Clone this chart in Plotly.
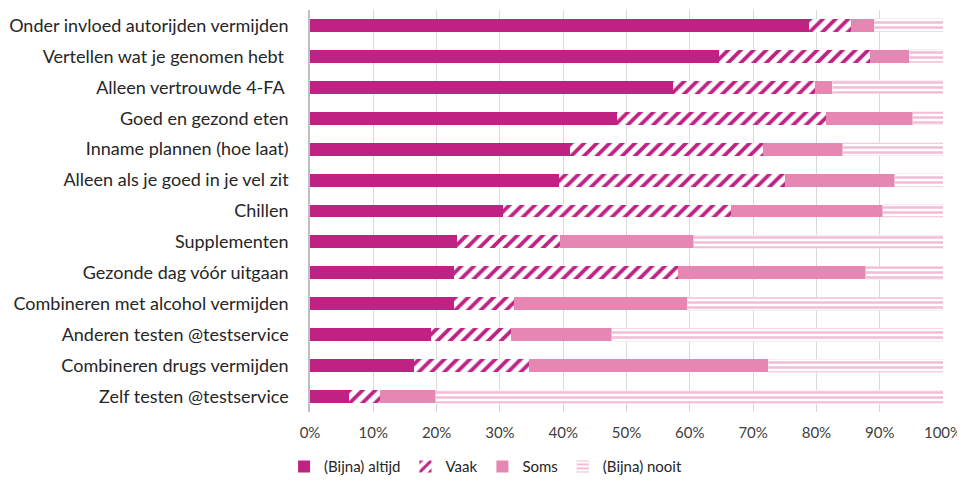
import plotly.graph_objects as go

categories = [
    "Onder invloed autorijden vermijden",
    "Vertellen wat je genomen hebt ",
    "Alleen vertrouwde 4-FA ",
    "Goed en gezond eten",
    "Inname plannen (hoe laat)",
    "Alleen als je goed in je vel zit",
    "Chillen",
    "Supplementen",
    "Gezonde dag vóór uitgaan",
    "Combineren met alcohol vermijden",
    "Anderen testen @testservice",
    "Combineren drugs vermijden",
    "Zelf testen @testservice",
]
altijd = [78.9, 64.6, 57.4, 48.5, 41.1, 39.3, 30.5, 23.3, 22.8, 22.8, 19.1, 16.5, 6.2]
vaak = [6.5, 23.9, 22.4, 33.0, 30.5, 35.8, 36.0, 16.2, 35.3, 9.5, 12.6, 18.1, 4.8]
soms = [3.7, 6.2, 2.7, 13.7, 12.6, 17.3, 24.0, 21.1, 29.7, 27.3, 16.0, 37.8, 8.9]
nooit = [10.9, 5.3, 17.5, 4.8, 15.8, 7.6, 9.5, 39.4, 12.2, 40.4, 52.3, 27.6, 80.1]
series_names = ["(Bijna) altijd", "Vaak", "Soms", "(Bijna) nooit"]
tick_vals = [0, 10, 20, 30, 40, 50, 60, 70, 80, 90, 100]
tick_text = ["0%", "10%", "20%", "30%", "40%", "50%", "60%", "70%", "80%", "90%", "100%"]

MAG = "#C02283"
SOMS = "#E687B3"
NOOIT = "#F2BCD6"

fig = go.Figure()
fig.add_bar(y=categories, x=altijd, name=series_names[0], orientation="h",
            marker=dict(color=MAG, line=dict(width=0)))
fig.add_bar(y=categories, x=vaak, name=series_names[1], orientation="h",
            marker=dict(color="white", line=dict(width=0),
                        pattern=dict(shape="/", fgcolor=MAG, bgcolor="white", fgopacity=1,
                                     size=9, solidity=0.42, fillmode="replace")))
fig.add_bar(y=categories, x=soms, name=series_names[2], orientation="h",
            marker=dict(color=SOMS, line=dict(width=0)))
fig.add_bar(y=categories, x=nooit, name=series_names[3], orientation="h",
            marker=dict(color="white", line=dict(width=0.6, color="#F9DDEA"),
                        pattern=dict(shape="-", fgcolor=NOOIT, bgcolor="white", fgopacity=1,
                                     size=5, solidity=0.5, fillmode="replace")))

fig.update_layout(
    barmode="stack",
    bargap=0.58,
    width=957, height=474,
    margin=dict(l=302, r=22, t=2, b=70, autoexpand=False),
    paper_bgcolor="white", plot_bgcolor="white",
    font=dict(family="Lato, Open Sans, sans-serif", size=18, color="#262626"),
    showlegend=True,
    legend=dict(orientation="h", x=-0.041, xanchor="left", y=-0.095, yanchor="top",
                traceorder="normal", font=dict(size=15), itemwidth=30),
    xaxis=dict(range=[0, 100], tickmode="array", tickvals=tick_vals, ticktext=tick_text,
               showgrid=True, gridcolor="#D9D9D9", gridwidth=1,
               zeroline=False, showline=False, ticks="",
               ticklabelstandoff=10,
               tickfont=dict(size=15, color="#404040")),
    yaxis=dict(autorange="reversed", showgrid=False, showline=True,
               linecolor="#BFBFBF", linewidth=1.5, ticks="",
               ticklabelstandoff=16, tickfont=dict(size=18, color="#262626")),
)

fig.write_html("out.html")
